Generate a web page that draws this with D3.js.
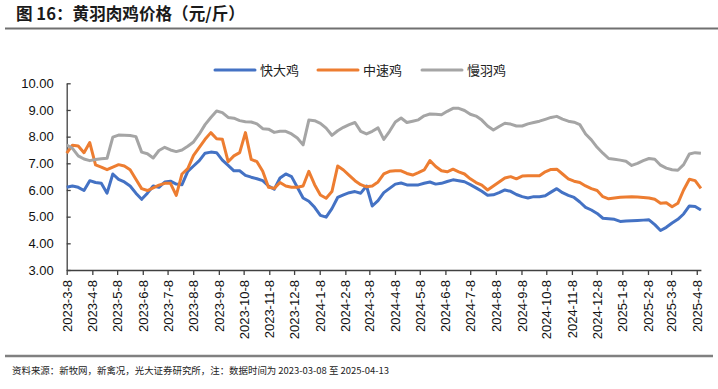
<!DOCTYPE html>
<html>
<head>
<meta charset="utf-8">
<script src="https://cdn.jsdelivr.net/npm/d3@7"></script>
<style>
  body { margin: 0; background: #fff; }
  svg { display: block; }
</style>
</head>
<body>
<div id="viz"></div>
<script>
// weekly prices, 2023-03-08 .. 2025-04-13
const startDate = "2023-03-08";
const endDate = "2025-04-13";

const seriesNames = ["快大鸡", "中速鸡", "慢羽鸡"];
const seriesColors = ["#4472C4", "#ED7D31", "#A5A5A5"];

const fastChicken = [
  6.10, 6.15, 6.10, 5.98, 6.35, 6.28, 6.25, 5.88, 6.60, 6.40,
  6.30, 6.15, 5.88, 5.65, 5.88, 6.15, 6.10, 6.30, 6.33, 6.22,
  6.20, 6.70, 6.90, 7.10, 7.38, 7.42, 7.40, 7.12, 6.92, 6.72,
  6.72, 6.55, 6.48, 6.42, 6.35, 6.15, 6.03, 6.45, 6.60, 6.50,
  6.10, 5.70, 5.58, 5.35, 5.05, 4.98, 5.30, 5.72, 5.82, 5.90,
  5.94, 5.88, 6.15, 5.40, 5.60, 5.90, 6.06, 6.22, 6.26, 6.19,
  6.19, 6.19, 6.25, 6.30, 6.22, 6.25, 6.32, 6.38, 6.35, 6.31,
  6.20, 6.08, 5.95, 5.80, 5.82, 5.90, 6.00, 5.95, 5.83, 5.75,
  5.70, 5.75, 5.75, 5.78, 5.92, 6.05, 5.90, 5.80, 5.72, 5.55,
  5.35, 5.25, 5.12, 4.94, 4.92, 4.90, 4.82, 4.84, 4.85, 4.86,
  4.87, 4.88, 4.70, 4.48, 4.60, 4.76, 4.90, 5.10, 5.40, 5.38,
  5.25
];

const mediumChicken = [
  7.38, 7.68, 7.65, 7.40, 7.78, 6.94, 6.86, 6.76, 6.86, 6.95,
  6.90, 6.76, 6.40, 6.05, 5.98, 6.08, 6.18, 6.25, 6.25, 5.80,
  6.60, 6.80, 7.30, 7.60, 7.90, 8.15, 7.92, 7.90, 7.06, 7.28,
  7.40, 8.15, 7.15, 7.06, 6.70, 6.10, 6.06, 6.28, 6.15, 6.10,
  6.10, 6.15, 6.70, 6.20, 5.81, 5.69, 5.94, 6.90, 6.75, 6.55,
  6.35, 6.20, 6.12, 6.15, 6.30, 6.60, 6.70, 6.72, 6.72, 6.62,
  6.56, 6.65, 6.75, 7.10, 6.88, 6.72, 6.68, 6.78, 6.68, 6.60,
  6.42, 6.28, 6.18, 6.00, 6.15, 6.30, 6.45, 6.50, 6.42, 6.52,
  6.53, 6.53, 6.53, 6.68, 6.77, 6.78, 6.60, 6.42, 6.33, 6.28,
  6.15, 6.05, 5.98, 5.75, 5.67, 5.70, 5.73, 5.74, 5.75, 5.74,
  5.72, 5.70, 5.65, 5.50, 5.52, 5.37, 5.50, 6.00, 6.40, 6.35,
  6.06
];

const slowChicken = [
  7.69, 7.56, 7.28, 7.16, 7.10, 7.14, 7.17, 7.19, 7.98, 8.06,
  8.05, 8.04, 8.00, 7.42, 7.36, 7.20, 7.48, 7.60, 7.50, 7.44,
  7.50, 7.64, 7.80, 8.10, 8.45, 8.72, 8.96, 8.90, 8.72, 8.69,
  8.60, 8.56, 8.55, 8.48, 8.30, 8.28, 8.16, 8.20, 8.20, 8.10,
  7.95, 7.69, 8.62, 8.60, 8.50, 8.32, 8.05, 8.22, 8.35, 8.45,
  8.53, 8.20, 8.10, 8.20, 8.33, 7.90, 8.20, 8.55, 8.70, 8.53,
  8.58, 8.63, 8.78, 8.85, 8.84, 8.82, 8.95, 9.06, 9.06, 8.98,
  8.84, 8.77, 8.62, 8.40, 8.25, 8.38, 8.50, 8.47, 8.40, 8.40,
  8.48, 8.53, 8.58, 8.65, 8.72, 8.76, 8.66, 8.58, 8.54, 8.45,
  8.10, 7.88, 7.60, 7.38, 7.18, 7.15, 7.12, 7.08, 6.92, 7.00,
  7.10, 7.18, 7.15, 6.93, 6.82, 6.76, 6.74, 6.95, 7.35, 7.40,
  7.38
];

const xTickLabels = [
  "2023-3-8", "2023-4-8", "2023-5-8", "2023-6-8", "2023-7-8", "2023-8-8",
  "2023-9-8", "2023-10-8", "2023-11-8", "2023-12-8", "2024-1-8", "2024-2-8",
  "2024-3-8", "2024-4-8", "2024-5-8", "2024-6-8", "2024-7-8", "2024-8-8",
  "2024-9-8", "2024-10-8", "2024-11-8", "2024-12-8", "2025-1-8", "2025-2-8",
  "2025-3-8", "2025-4-8"
];
const yTicks = [3, 4, 5, 6, 7, 8, 9, 10];

const titleText = "图 16：黄羽肉鸡价格（元/斤）";
const sourceText = "资料来源：新牧网，新禽况，光大证券研究所，注：数据时间为 2023-03-08 至 2025-04-13";

let w = 718;
let h = 389;

const parse = d3.timeParse("%Y-%m-%d");
const parseTick = d3.timeParse("%Y-%-m-%-d");
let t0 = parse(startDate);
let t1 = parse(endDate);

// dates of the weekly points, spread over the data period
let n = fastChicken.length;
let pointDates = d3.range(n).map(i => new Date(+t0 + (t1 - t0) * i / (n - 1)));

let allSeries = [fastChicken, mediumChicken, slowChicken].map((vals, k) => ({
  name: seriesNames[k],
  color: seriesColors[k],
  values: vals.map((v, i) => ({ date: pointDates[i], value: v }))
}));

const svg = d3.select("#viz")
  .append("svg")
  .attr("width", w)
  .attr("height", h);

const xScale = d3.scaleTime()
  .domain([t0, t1])
  .range([66.7, 700.9]);

const yScale = d3.scaleLinear()
  .domain([3, 10])
  .range([270, 83.3]);

// title and rules
svg.append("text")
  .attr("x", 16)
  .attr("y", 20)
  .attr("font-family", "'Noto Sans CJK SC', sans-serif")
  .attr("font-size", 16.6)
  .attr("font-weight", "bold")
  .attr("fill", "#1a1a1a")
  .text(titleText);

svg.append("line")
  .attr("x1", 5).attr("x2", 718)
  .attr("y1", 28.5).attr("y2", 28.5)
  .attr("stroke", "#707070")
  .attr("stroke-width", 2);

svg.append("line")
  .attr("x1", 5).attr("x2", 713)
  .attr("y1", 356).attr("y2", 356)
  .attr("stroke", "#808080")
  .attr("stroke-width", 2.5);

svg.append("text")
  .attr("x", 12)
  .attr("y", 374)
  .attr("font-family", "'Noto Sans CJK SC', sans-serif")
  .attr("font-size", 9.45)
  .attr("fill", "#222")
  .text(sourceText);

// y axis, ticks pointing inwards
let yAxis = svg.append("g")
  .attr("transform", `translate(${xScale(t0)},0)`)
  .call(d3.axisLeft(yScale)
    .tickValues(yTicks)
    .tickSize(-4)
    .tickSizeOuter(0)
    .tickPadding(13)
    .tickFormat(d3.format(".2f")));

// x axis, monthly ticks on the 8th
let tickDates = xTickLabels.map(s => parseTick(s));
let xAxis = svg.append("g")
  .attr("transform", `translate(0,${yScale(3)})`)
  .call(d3.axisBottom(xScale)
    .tickValues(tickDates)
    .tickSize(5)
    .tickSizeOuter(0)
    .tickFormat((d, i) => xTickLabels[i]));

xAxis.selectAll("text")
  .attr("transform", "rotate(-90)")
  .attr("x", -10)
  .attr("y", 0)
  .attr("dy", "0.35em")
  .attr("text-anchor", "end");

[yAxis, xAxis].forEach(g => {
  g.selectAll("path, line").attr("stroke", "#404040").attr("stroke-width", 1.3);
  g.selectAll("text")
    .attr("font-family", "'Liberation Sans', Arial, sans-serif")
    .attr("font-size", 13)
    .attr("fill", "#111");
});

// lines
let lineGen = d3.line()
  .x(d => xScale(d.date))
  .y(d => yScale(d.value));

let lineGroup = svg.append("g");
lineGroup.selectAll("path")
  .data(allSeries)
  .enter()
  .append("path")
  .attr("d", d => lineGen(d.values))
  .attr("fill", "none")
  .attr("stroke", d => d.color)
  .attr("stroke-width", 3)
  .attr("stroke-linejoin", "round");

// legend
let legendX = [215, 318, 422];
let legend = svg.append("g");
allSeries.forEach((s, k) => {
  legend.append("line")
    .attr("x1", legendX[k]).attr("x2", legendX[k] + 40)
    .attr("y1", 70).attr("y2", 70)
    .attr("stroke", s.color)
    .attr("stroke-width", 3)
    .attr("stroke-linecap", "round");
  legend.append("text")
    .attr("x", legendX[k] + 45)
    .attr("y", 70)
    .attr("dy", "0.36em")
    .attr("font-family", "'Noto Sans CJK SC', sans-serif")
    .attr("font-size", 13)
    .attr("fill", "#222")
    .text(s.name);
});
</script>
</body>
</html>
